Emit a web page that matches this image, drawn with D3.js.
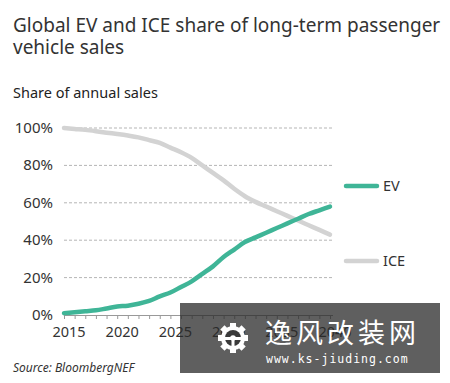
<!DOCTYPE html>
<html>
<head>
<meta charset="utf-8">
<script src="https://cdn.jsdelivr.net/npm/d3@7"></script>
<style>
  body { margin: 0; background: #fff; }
  svg { display: block; font-family: "Noto Sans", sans-serif; }
</style>
</head>
<body>
<div id="chart"></div>
<script>
// data (share of annual sales, %)
const years = d3.range(2015, 2041)
const evShare = [1, 1.5, 2, 2.5, 3.5, 4.5, 5, 6, 7.5, 10, 12, 15, 18, 22, 26, 31, 35, 39, 41.5, 44, 46.5, 49, 51.5, 54, 56, 58]
const iceShare = [100, 99.5, 99, 98.3, 97.5, 96.8, 96, 95, 93.5, 92, 89.5, 87, 84, 80, 76, 72, 67.5, 63.5, 60.5, 58, 55.5, 53, 50.5, 48, 45.5, 43]
const yTicks = [0, 20, 40, 60, 80, 100]
const xTicks = [2015, 2020, 2025, 2030, 2035, 2040]

const width = 450, height = 383
const evColor = "#3fb597", iceColor = "#d3d3d3"

const svg = d3.select("#chart").append("svg")
    .attr("width", width)
    .attr("height", height)

const x = d3.scaleLinear([2015, 2040], [64, 330])
const y = d3.scaleLinear([0, 100], [315, 128])

// titles
svg.append("text").attr("x", 13).attr("y", 32)
    .attr("font-size", 19).attr("fill", "#333")
    .text("Global EV and ICE share of long-term passenger")
svg.append("text").attr("x", 13).attr("y", 54)
    .attr("font-size", 19).attr("fill", "#333")
    .text("vehicle sales")
svg.append("text").attr("x", 13).attr("y", 98)
    .attr("font-size", 14.5).attr("fill", "#222")
    .text("Share of annual sales")

// grid
svg.append("g")
  .selectAll("line")
  .data(yTicks.filter(d => d > 0))
  .join("line")
    .attr("x1", 64).attr("x2", 333)
    .attr("y1", d => y(d)).attr("y2", d => y(d))
    .attr("stroke", "#b5b5b5")
    .attr("stroke-dasharray", "3,2")

// y labels
svg.append("g")
  .selectAll("text")
  .data(yTicks)
  .join("text")
    .attr("x", 53).attr("y", d => y(d) + 5)
    .attr("text-anchor", "end")
    .attr("font-size", 15).attr("fill", "#333")
    .text(d => d + "%")

// x axis, a small tick every year
const xAxis = d3.axisBottom(x)
    .tickValues(years)
    .tickSize(4)
    .tickFormat("")
const gx = svg.append("g").attr("transform", `translate(0,${y(0)})`).call(xAxis)
gx.select(".domain").attr("stroke", "#999").attr("d", "M64,0.5H333")
gx.selectAll(".tick line").attr("stroke", "#999")

svg.append("g")
  .selectAll("text")
  .data(xTicks)
  .join("text")
    .attr("x", d => x(d) + 5).attr("y", 337)
    .attr("text-anchor", "middle")
    .attr("font-size", 14.5).attr("fill", "#333")
    .text(d => d)

// lines
const line = d3.line()
    .x((d, i) => x(years[i]))
    .y(d => y(d))
    .curve(d3.curveMonotoneX)

svg.append("path").datum(iceShare)
    .attr("d", line).attr("fill", "none")
    .attr("stroke", iceColor).attr("stroke-width", 4.5)
    .attr("stroke-linecap", "round")
svg.append("path").datum(evShare)
    .attr("d", line).attr("fill", "none")
    .attr("stroke", evColor).attr("stroke-width", 4.5)
    .attr("stroke-linecap", "round")

// legend
const legend = [["EV", evColor, 186], ["ICE", iceColor, 261]]
legend.forEach(([name, color, ly]) => {
    svg.append("line").attr("x1", 346).attr("x2", 377)
        .attr("y1", ly).attr("y2", ly)
        .attr("stroke", color).attr("stroke-width", 4.5)
        .attr("stroke-linecap", "round")
    svg.append("text").attr("x", 383).attr("y", ly + 5)
        .attr("font-size", 14.5).attr("fill", "#333")
        .text(name)
})

// source
svg.append("text").attr("x", 13).attr("y", 372)
    .attr("font-size", 12).attr("font-style", "italic").attr("fill", "#333")
    .text("Source: BloombergNEF")

// watermark overlay (semi transparent, the axis labels show through)
const wm = svg.append("g")
wm.append("rect").attr("x", 180).attr("y", 303).attr("width", 260).attr("height", 70)
    .attr("fill", "#2a2a2a").attr("opacity", 0.75)
// gear icon
const gear = wm.append("g").attr("transform", "translate(233,338)")
d3.range(8).forEach(k => {
    gear.append("rect").attr("x", -3).attr("y", -15).attr("width", 6).attr("height", 6)
        .attr("fill", "#fff").attr("transform", `rotate(${k * 45})`)
})
gear.append("circle").attr("r", 12).attr("fill", "#fff")
gear.append("circle").attr("r", 8).attr("fill", "#3a3a3a")
gear.append("circle").attr("r", 2.8).attr("fill", "#fff")
gear.append("path").attr("d", "M-8,-1L8,-1L8,2L-8,2Z M-1.5,0L1.5,0L1.5,8L-1.5,8Z").attr("fill", "#fff")
wm.append("text").attr("x", 265).attr("y", 343)
    .attr("font-family", "Noto Sans CJK SC").attr("font-size", 27)
    .attr("fill", "#fff").attr("letter-spacing", 4)
    .text("逸风改装网")
wm.append("text").attr("x", 266).attr("y", 363)
    .attr("font-family", "DejaVu Sans Mono").attr("font-size", 11.5)
    .attr("fill", "#fff").attr("letter-spacing", 1)
    .text("www.ks-jiuding.com")
</script>
</body>
</html>
